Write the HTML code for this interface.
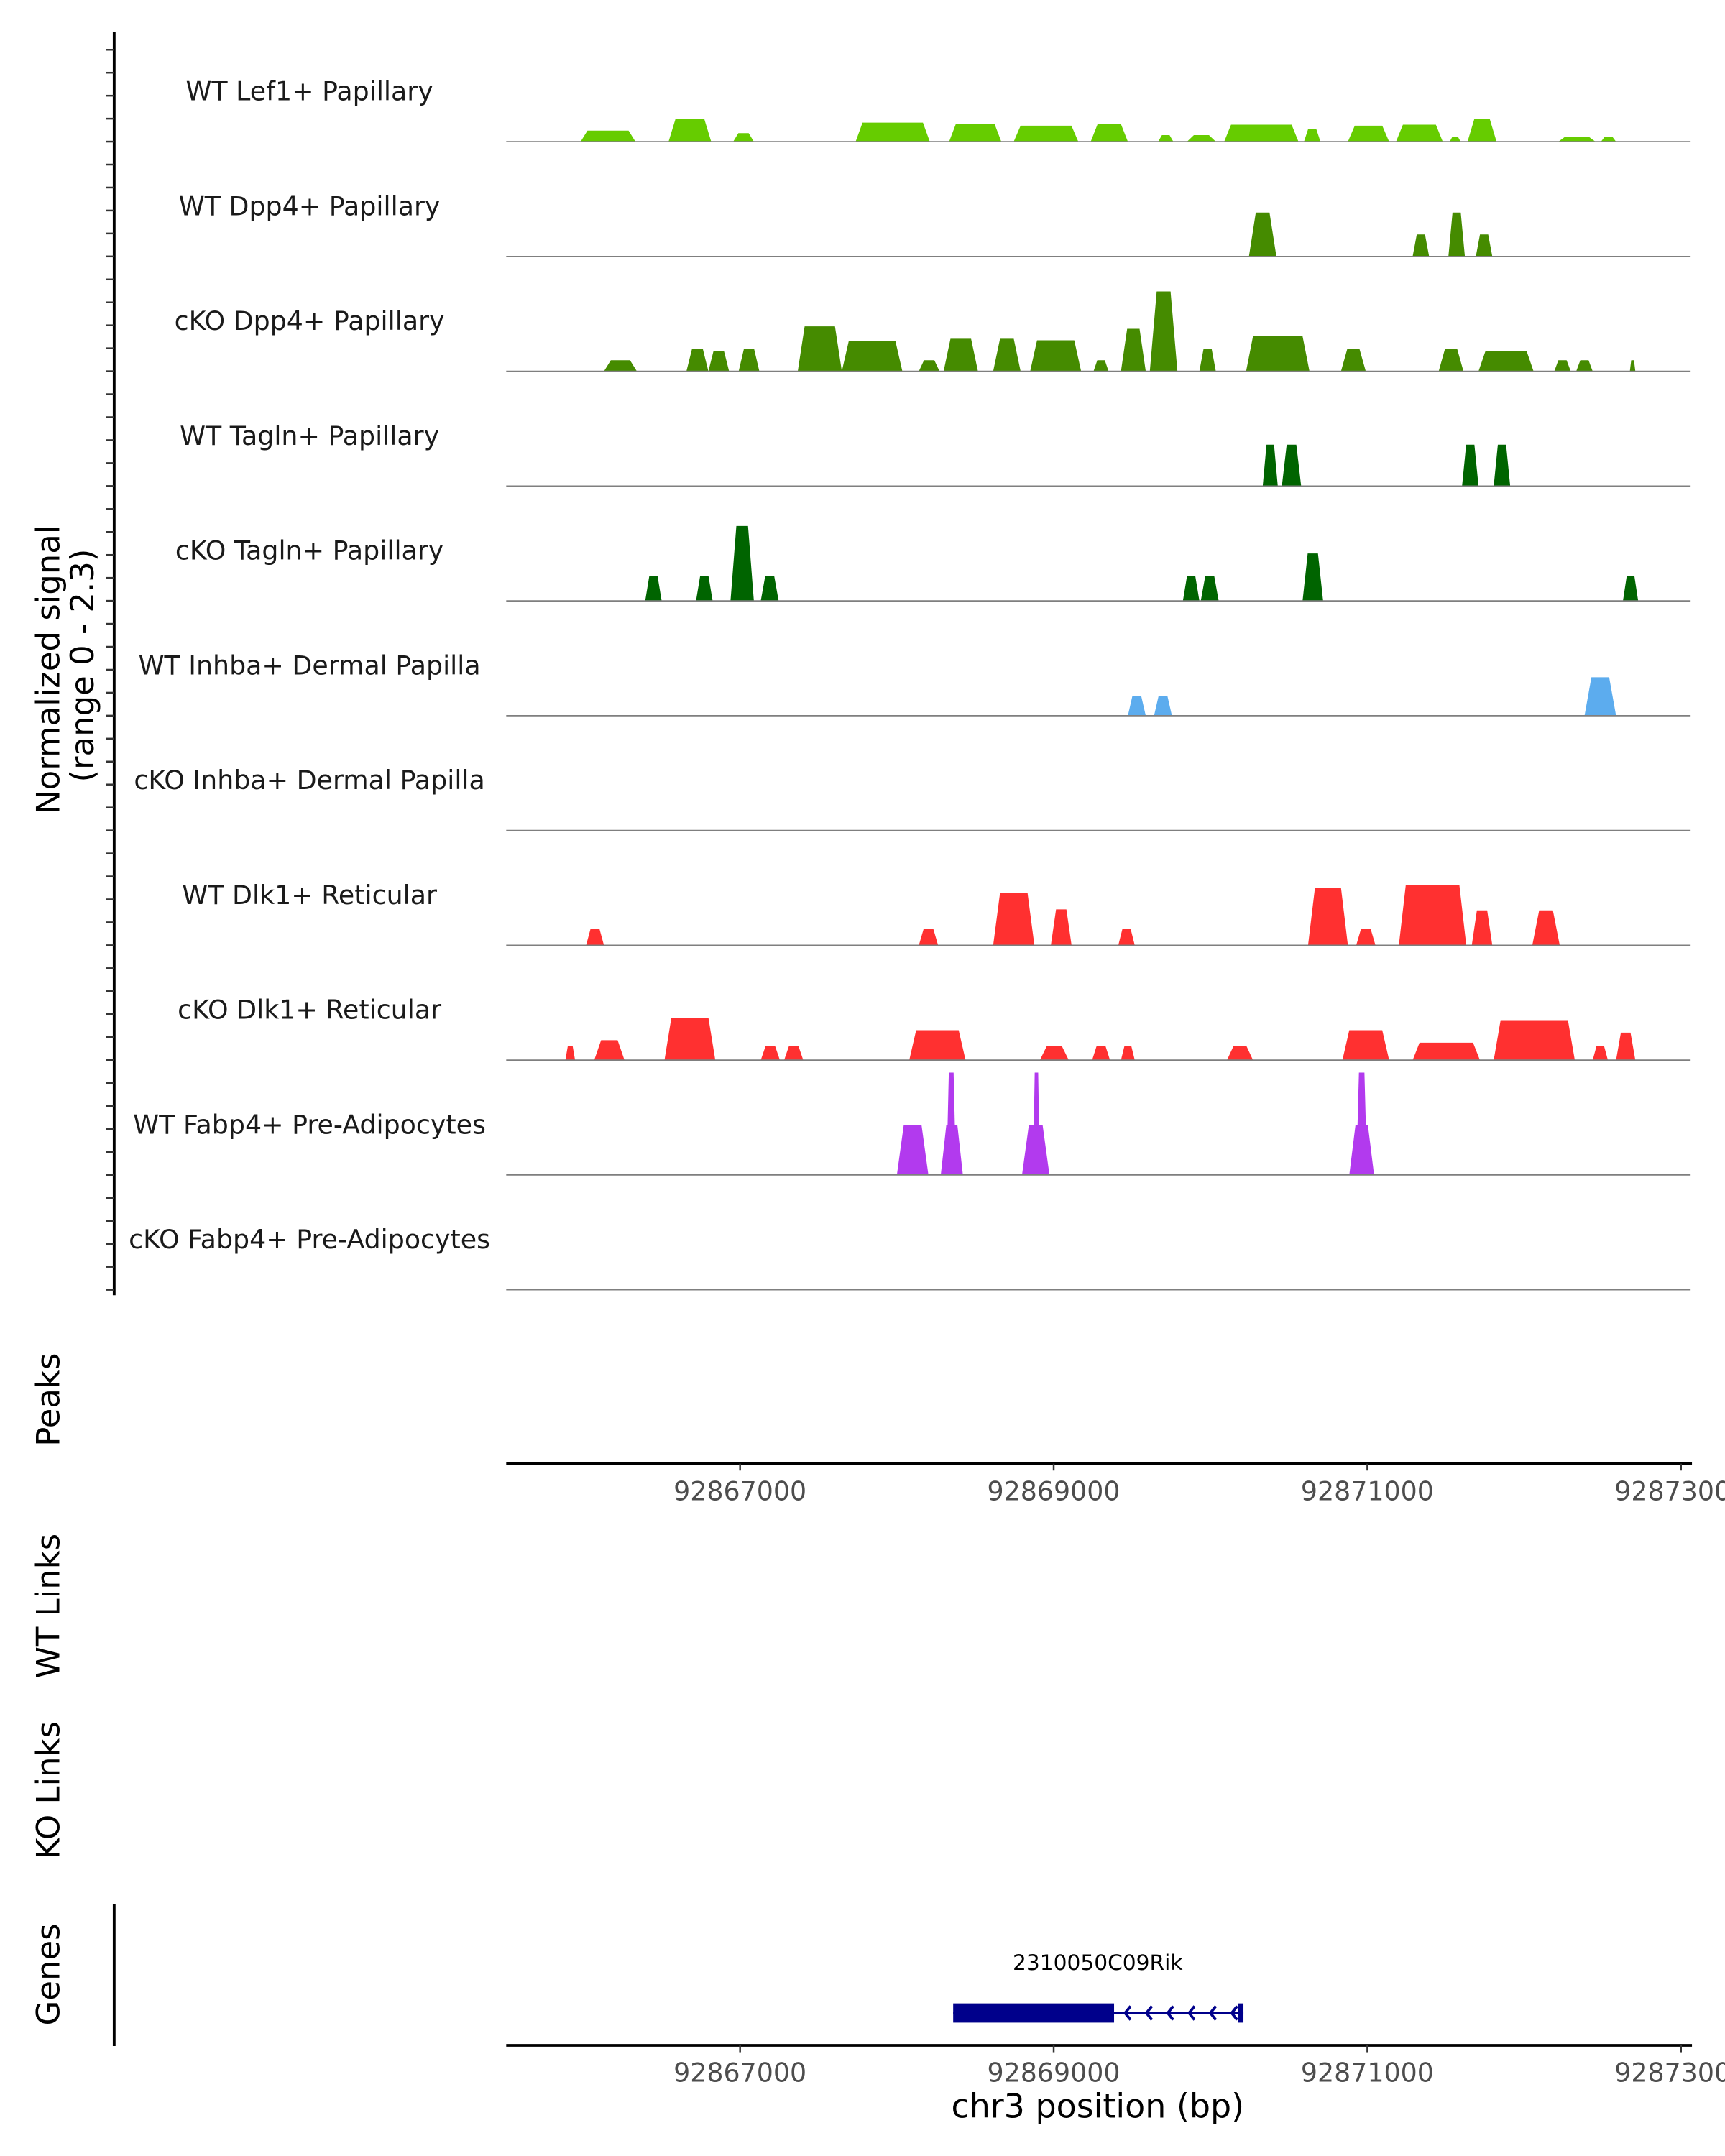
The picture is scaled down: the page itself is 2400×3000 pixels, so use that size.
<!DOCTYPE html>
<html><head><meta charset="utf-8">
<style>
html,body{margin:0;padding:0;background:#fff;}
svg{display:block;}
text{font-family:"DejaVu Sans","Liberation Sans",sans-serif;}
</style></head>
<body>
<svg id="chart" width="2400" height="3000" viewBox="0 0 1254 1568" preserveAspectRatio="none" xmlns="http://www.w3.org/2000/svg">
<rect x="0" y="0" width="1254" height="1568" fill="#fff"/>
<g id="tracks"></g>
<g id="axes"></g>
</svg>
<script>
// ---- data ----
const trackNames = ["WT Lef1+ Papillary","WT Dpp4+ Papillary","cKO Dpp4+ Papillary","WT Tagln+ Papillary","cKO Tagln+ Papillary","WT Inhba+ Dermal Papilla","cKO Inhba+ Dermal Papilla","WT Dlk1+ Reticular","cKO Dlk1+ Reticular","WT Fabp4+ Pre-Adipocytes","cKO Fabp4+ Pre-Adipocytes"];
const trackColors = ["#66CC00","#458B00","#458B00","#006400","#006400","#5CACEE","#5CACEE","#FF3030","#FF3030","#B23AEE","#B23AEE"];
const yMax = 2.3;
const xMin = 92865509, xMax = 92873061;
const xTicks = [92867000, 92869000, 92871000, 92873000];
const xTickLabels = ["92867000","92869000","92871000","92873000"];

// peaks per track: start bp, end bp, value
const t0Start=[92865983,92866544,92866956,92867737,92868333,92868745,92869236,92869666,92869850,92870087,92870596,92870876,92871183,92871525,92871639,92872218,92872490];
const t0End  =[92866333,92866816,92867088,92868210,92868666,92869157,92869473,92869763,92870034,92870561,92870701,92871139,92871481,92871595,92871824,92872455,92872586];
const t0Val  =[0.22,0.45,0.17,0.38,0.36,0.32,0.35,0.13,0.13,0.34,0.25,0.32,0.34,0.1,0.46,0.1,0.1];
const t1Start=[92870245,92871289,92871517,92871692];
const t1End  =[92870420,92871394,92871622,92871797];
const t1Val  =[0.88,0.44,0.88,0.44];
const t2Start=[92866132,92866658,92866798,92866991,92867368,92867649,92868140,92868298,92868614,92868850,92869254,92869429,92869613,92869929,92870227,92870832,92871455,92871709,92872192,92872332,92872674];
const t2End  =[92866342,92866798,92866930,92867123,92867649,92868035,92868272,92868517,92868789,92869175,92869350,92869587,92869789,92870034,92870631,92870990,92871613,92872060,92872297,92872437,92872709];
const t2Val  =[0.22,0.44,0.41,0.44,0.9,0.6,0.22,0.65,0.65,0.62,0.22,0.85,1.6,0.44,0.7,0.44,0.44,0.4,0.22,0.22,0.22];
const t3Start=[92870333,92870455,92871604,92871806];
const t3End  =[92870429,92870578,92871709,92871911];
const t3Val  =[0.83,0.83,0.83,0.83];
const t4Start=[92866395,92866719,92866939,92867132,92869824,92869938,92870587,92872630];
const t4End  =[92866500,92866825,92867088,92867246,92869929,92870052,92870718,92872727];
const t4Val  =[0.5,0.5,1.5,0.5,0.5,0.5,0.95,0.5];
const t5Start=[92869473,92869640,92872385];
const t5End  =[92869587,92869754,92872586];
const t5Val  =[0.39,0.39,0.77];
const t6Start=[], t6End=[], t6Val=[];
const t7Start=[92866018,92868140,92868614,92868982,92869412,92870622,92870929,92871201,92871666,92872052];
const t7End  =[92866132,92868263,92868877,92869114,92869517,92870876,92871052,92871631,92871797,92872227];
const t7Val  =[0.33,0.33,1.05,0.72,0.33,1.15,0.33,1.2,0.7,0.7];
const t8Start=[92865886,92866070,92866518,92867132,92867281,92868079,92868912,92869245,92869429,92870105,92870841,92871289,92871806,92872437,92872586];
const t8End  =[92865948,92866263,92866842,92867254,92867403,92868438,92869096,92869359,92869517,92870271,92871139,92871718,92872323,92872534,92872709];
const t8Val  =[0.28,0.4,0.85,0.28,0.28,0.6,0.28,0.28,0.28,0.28,0.6,0.35,0.8,0.28,0.55];
const t9Start=[92868000,92868280,92868316,92868798,92868868,92870885,92870929];
const t9End  =[92868201,92868421,92868377,92868973,92868912,92871043,92870999];
const t9Val  =[1.0,1.0,2.05,1.0,2.05,1.0,2.05];
const t10Start=[], t10End=[], t10Val=[];
const allStarts=[t0Start,t1Start,t2Start,t3Start,t4Start,t5Start,t6Start,t7Start,t8Start,t9Start,t10Start];
const allEnds=[t0End,t1End,t2End,t3End,t4End,t5End,t6End,t7End,t8End,t9End,t10End];
const allVals=[t0Val,t1Val,t2Val,t3Val,t4Val,t5Val,t6Val,t7Val,t8Val,t9Val,t10Val];

const geneName = "2310050C09Rik";
const geneStart = 92868359, geneCdsEnd = 92869385, geneEnd = 92870210;

// ---- layout ----
const NS="http://www.w3.org/2000/svg";
const pL=368, pR=1229, top0=19.5, trackH=83.5;
function xs(bp){return 538 + (bp-92867000)*0.114;}
function baseY(i){return top0 + (i+1)*trackH;}
function ys(i,v){return baseY(i) - v/yMax*trackH;}
function mk(tag,attrs,parent){const e=document.createElementNS(NS,tag);for(const k in attrs)e.setAttribute(k,attrs[k]);parent.appendChild(e);return e;}
const gT=document.getElementById('tracks'), gA=document.getElementById('axes');

for(let i=0;i<trackNames.length;i++){
  const g=mk('g',{},gT);
  
  
  const lab=mk('text',{x:225,y:baseY(i)-30,'text-anchor':'middle','font-size':'19',fill:'#1a1a1a'},g);
  lab.textContent=trackNames[i];
  
  
  const S=allStarts[i],E=allEnds[i],V=allVals[i];
  for(let k=0;k<S.length;k++){
    const x1=xs(S[k]),x2=xs(E[k]),w=x2-x1,r=Math.min(w*0.25,5);
    const b=baseY(i),yt=ys(i,V[k]);
    const p=mk('polygon',{points:`${x1},${b} ${x1+r},${yt} ${x2-r},${yt} ${x2},${b}`,fill:trackColors[i]},g);
    
    
  }
  const bl=mk('line',{x1:pL,x2:pR,y1:baseY(i),y2:baseY(i),stroke:'#7f7f7f','stroke-width':'0.9'},g);
  
  
}

// left axis with ticks
const ax=mk('line',{x1:83,x2:83,y1:23.5,y2:942,stroke:'#000','stroke-width':'2'},gA);


for(let k=0;k<=54;k++){
  const y=baseY(0)-4*trackH/5+k*trackH/5;
  if(y>941)break;
  const t=mk('line',{x1:77,x2:83,y1:y,y2:y,stroke:'#333','stroke-width':'1.3'},gA);
  
  
}
const yt1=mk('text',{x:0,y:0,'text-anchor':'middle','font-size':'23.5',fill:'#000',transform:'translate(43,487) rotate(-90)'},gA);
yt1.textContent='Normalized signal';


const yt2=mk('text',{x:0,y:0,'text-anchor':'middle','font-size':'23.5',fill:'#000',transform:'translate(68,484) rotate(-90)'},gA);
yt2.textContent='(range 0 - 2.3)';



function rotLabel(txt,y,name){
  const t=mk('text',{x:0,y:0,'text-anchor':'middle','font-size':'23.5',fill:'#000',transform:`translate(43,${y}) rotate(-90)`},gA);
  t.textContent=txt;
  
  
}
rotLabel('Peaks',1018,'peaks-label');
rotLabel('WT Links',1168,'wt-links-label');
rotLabel('KO Links',1302,'ko-links-label');
rotLabel('Genes',1436,'genes-label');

function xAxis(y,name){
  const l=mk('line',{x1:pL,x2:pR+1,y1:y,y2:y,stroke:'#000','stroke-width':'2'},gA);
  
  
  for(let k=0;k<xTicks.length;k++){
    const x=xs(xTicks[k]);
    const t=mk('line',{x1:x,x2:x,y1:y,y2:y+5,stroke:'#333','stroke-width':'1.3'},gA);
    
    
    const tl=mk('text',{x:x,y:y+26.5,'text-anchor':'middle','font-size':'19',fill:'#4d4d4d'},gA);
    tl.textContent=xTickLabels[k];
    
    
  }
}
xAxis(1064.5,'peaks-x-axis');
xAxis(1487.5,'genes-x-axis');
const gl=mk('line',{x1:83,x2:83,y1:1385,y2:1488,stroke:'#000','stroke-width':'2'},gA);


const xt=mk('text',{x:798,y:1540,'text-anchor':'middle','font-size':'24',fill:'#000'},gA);
xt.textContent='chr3 position (bp)';



// gene model
const gg=mk('g',{},gA);


const gn=mk('text',{x:798,y:1432.5,'text-anchor':'middle','font-size':'15.5',fill:'#000'},gg);
gn.textContent=geneName;


const gy=1464;
const gx1=xs(geneStart),gx2=xs(geneCdsEnd),gx3=xs(geneEnd);
const gline=mk('line',{x1:gx1,x2:gx3,y1:gy,y2:gy,stroke:'#00008B','stroke-width':'2'},gg);


const gb=mk('rect',{x:gx1,y:gy-7,width:gx2-gx1,height:14,fill:'#00008B'},gg);


const ge=mk('rect',{x:gx3-4,y:gy-7,width:4,height:14,fill:'#00008B'},gg);


for(let k=0;k<6;k++){
  const ax0=gx2+8+k*15.5;
  const ar=mk('polyline',{points:`${ax0+4},${gy-5} ${ax0},${gy} ${ax0+4},${gy+5}`,fill:'none',stroke:'#00008B','stroke-width':'2'},gg);
  
  
}
</script>
</body></html>
